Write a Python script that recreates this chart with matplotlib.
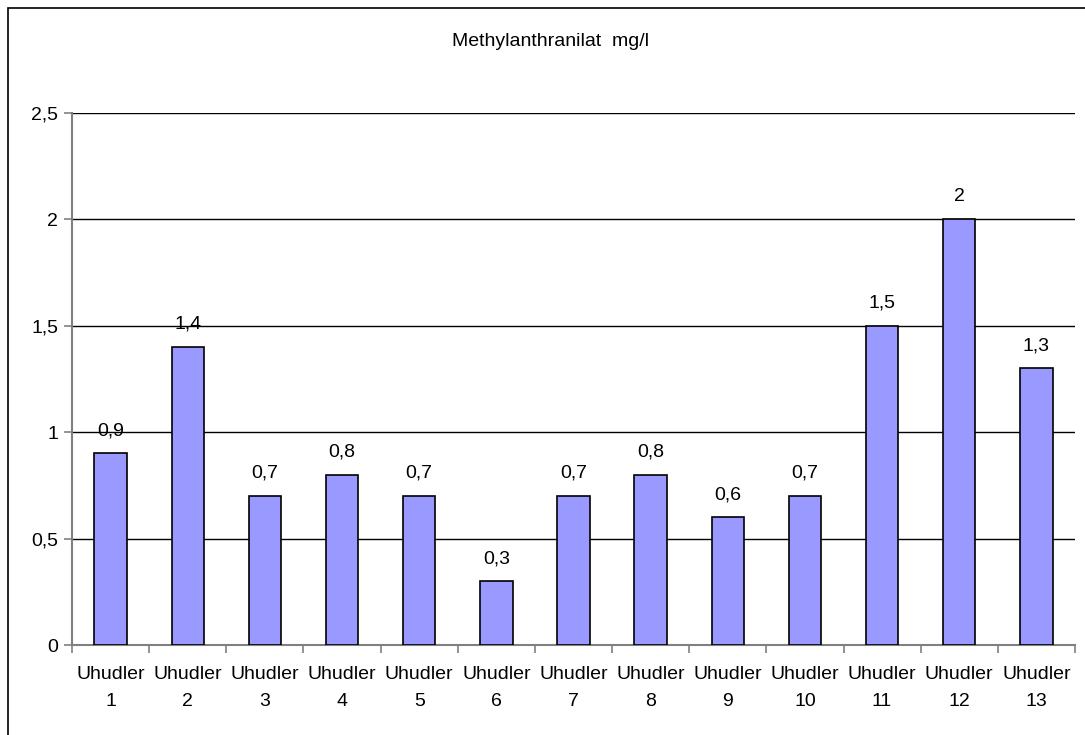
import matplotlib
matplotlib.use('Agg')
import matplotlib.pyplot as plt
from matplotlib.patches import Rectangle

plt.rcParams['font.family'] = ['Liberation Sans', 'DejaVu Sans']

categories = [f"Uhudler\n{i}" for i in range(1, 14)]
values = [0.9, 1.4, 0.7, 0.8, 0.7, 0.3, 0.7, 0.8, 0.6, 0.7, 1.5, 2.0, 1.3]
yticks = [0, 0.5, 1, 1.5, 2, 2.5]

BAR = "#9999FF"
AXIS_GREY = "#808080"
FS = 14


def de(v):
    # decimal comma formatting
    s = f"{v:g}"
    return s.replace(".", ",")


fig = plt.figure(figsize=(10.85, 7.35), dpi=100)
fig.patch.set_facecolor("white")

# outer chart frame (runs off the right/bottom edges)
fig.patches.append(Rectangle((8 / 1085, -0.05), 1.2, 1 - 8 / 735 + 0.05,
                             transform=fig.transFigure, fill=False,
                             edgecolor="black", linewidth=1.2, zorder=0))

ax = fig.add_axes([72 / 1085, 1 - 645 / 735, (1075 - 72) / 1085, (645 - 113) / 735])

x = range(len(values))
ax.bar(x, values, width=0.42, color=BAR, edgecolor="black", linewidth=1.2, zorder=3)

for xi, v in zip(x, values):
    ax.text(xi, v + 0.085, de(v), ha="center", va="baseline", fontsize=FS, zorder=4)

ax.set_xlim(-0.5, len(values) - 0.5)
ax.set_ylim(0, 2.5)
ax.set_yticks(yticks)
ax.set_yticklabels([de(t) for t in yticks], fontsize=FS)
ax.yaxis.grid(True, color="black", linewidth=1.0, zorder=1)
ax.set_axisbelow(True)

# category ticks sit between the bars
ax.set_xticks([i - 0.5 for i in range(len(values) + 1)])
ax.set_xticklabels([])
ax.set_xticks(list(x), minor=True)
ax.set_xticklabels(categories, minor=True, fontsize=FS, linespacing=1.75)
ax.tick_params(axis="x", which="minor", length=0, pad=15)
ax.tick_params(axis="x", which="major", direction="out", length=6, color=AXIS_GREY, width=1.2)
ax.tick_params(axis="y", direction="out", length=6, color=AXIS_GREY, width=1.2, pad=4)

for side in ("top", "right"):
    ax.spines[side].set_visible(False)
for side in ("left", "bottom"):
    ax.spines[side].set_color(AXIS_GREY)
    ax.spines[side].set_linewidth(1.5)

fig.text(550 / 1085, 1 - 41 / 735, "Methylanthranilat  mg/l", ha="center", va="center", fontsize=FS)

fig.savefig("out.png", dpi=100, facecolor="white")
